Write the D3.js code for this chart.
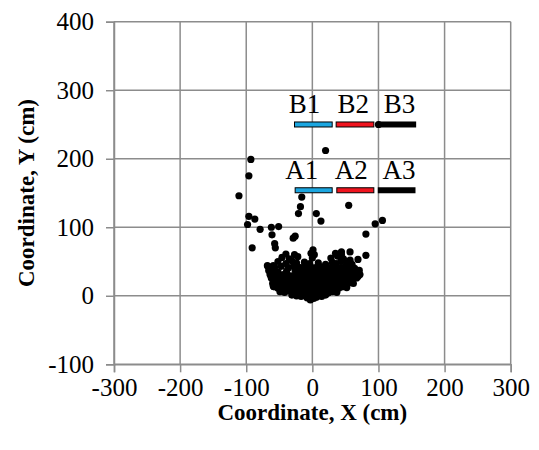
<!DOCTYPE html>
<html>
<head>
<meta charset="utf-8">
<script src="https://cdn.jsdelivr.net/npm/d3@7"></script>
<style>
  body { margin: 0; background: #fff; }
  svg { display: block; }
</style>
</head>
<body>
<div id="chart"></div>
<script>
// ---------Data----------

// scatter points [x, y] in cm
const outliers = [
  [20, 212], [-93, 199], [-96, 175], [-111, 146], [-16, 144], [-18, 130], [-21, 120],
  [6, 120], [13, 109], [55, 132], [-96, 116], [-87, 112], [-98, 104], [-79, 97],
  [-62, 100], [-51, 101], [-61, 89], [-57, 76], [-91, 70], [-56, 70], [-29, 84],
  [-26, 87], [95, 105], [106, 110], [81, 90], [81, 59], [69, 53], [-2, 62], [1, 67],
  [57, 64], [44, 64], [-59, 44], [-67, 43], [-59, 14], [-62, 27], [69, 28], [54, 19],
  [-64, 40], [100, 250]
];
const cluster = [
  [-8, -3], [-3, -6], [2, -4], [6, -2],
  [-31, 1], [-24, 0], [-17, -1], [-11, 1], [-5, 0], [1, 1], [8, 0], [14, -1], [20, 1],
  [-49, 6], [-42, 5], [-36, 7], [-29, 5], [-22, 6], [-15, 7], [-9, 5], [-2, 6], [4, 7],
  [11, 5], [17, 6], [24, 4], [30, 6], [37, 5],
  [-58, 13], [-52, 11], [-45, 12], [-38, 11], [-31, 13], [-25, 12], [-18, 11], [-12, 13],
  [-6, 12], [0, 11], [7, 13], [13, 12], [20, 11], [26, 13], [33, 12], [40, 11], [46, 13], [52, 12],
  [-60, 18], [-54, 19], [-47, 17], [-40, 18], [-34, 19], [-27, 17], [-20, 18], [-14, 19],
  [-8, 17], [-1, 18], [5, 19], [12, 17], [18, 18], [25, 19], [31, 17], [38, 18], [44, 19],
  [50, 17], [56, 19], [62, 18],
  [-62, 26], [-55, 24], [-49, 23], [-42, 25], [-36, 24], [-29, 23], [-23, 25], [-16, 24],
  [-10, 23], [-3, 25], [3, 24], [10, 23], [16, 25], [23, 24], [29, 23], [35, 25], [42, 24],
  [48, 23], [55, 25], [61, 24], [67, 26],
  [-64, 31], [-57, 30], [-50, 29], [-44, 31], [-37, 30], [-31, 29], [-24, 31], [-18, 30],
  [-11, 29], [-5, 31], [2, 30], [8, 29], [15, 31], [21, 30], [28, 29], [34, 31], [40, 30],
  [47, 29], [53, 31], [60, 30], [66, 29], [72, 31],
  [-66, 37], [-59, 36], [-52, 35], [-39, 36], [-26, 37], [-19, 36],
  [-13, 35], [-6, 37], [0, 36], [7, 35], [13, 37], [20, 36], [26, 35], [33, 37], [39, 36],
  [46, 35], [52, 37], [59, 36], [65, 35], [71, 37],
  [-68, 44], [-57, 42], [-47, 43], [-36, 41], [-28, 44], [-21, 42],
  [-15, 41], [-8, 43], [-2, 42], [5, 41], [11, 43], [18, 42], [24, 41], [31, 43], [37, 42],
  [44, 41], [50, 43], [57, 42], [64, 40],
  [-52, 50], [-40, 47], [-31, 51], [-24, 48], [-12, 49], [-4, 47],
  [9, 48], [20, 46], [30, 49], [36, 47], [43, 50], [52, 48], [60, 46],
  [-46, 56], [-35, 54], [-22, 57], [0, 55], [28, 55], [38, 58], [47, 54], [57, 52],
  [-40, 61], [-27, 60], [3, 60], [35, 62], [44, 60]
];

// marker segments
const segNames = ["A1", "A2", "A3", "B1", "B2", "B3"];
const segStart = [-26, 37, 99, -27, 36, 99];
const segEnd = [30, 93, 156, 30, 93, 157];
const segLevel = [154, 154, 154, 250, 250, 250];
const segLabelX = [-16, 59, 131, -12, 62, 132];

// ticks
const xTicks = [-300, -200, -100, 0, 100, 200, 300];
const yTicks = [-100, 0, 100, 200, 300, 400];

// ---------Chart----------

const width = 539;
const height = 450;
const plot = { left: 114, right: 510.7, top: 21.7, bottom: 364.3 };
const gridColor = "#8c8c8c";
const serif = "'Liberation Serif', 'Times New Roman', serif";
const segColor = ["#1ba6e0", "#f0141e", "#000000"];

const svg = d3.select("#chart")
  .append("svg")
  .attr("width", width)
  .attr("height", height);

const x = d3.scaleLinear().domain([-300, 300]).range([plot.left, plot.right]);
const y = d3.scaleLinear().domain([-100, 400]).range([plot.bottom, plot.top]);

// gridlines
svg.append("g")
  .selectAll("line")
  .data(xTicks)
  .enter()
  .append("line")
  .attr("x1", d => x(d))
  .attr("x2", d => x(d))
  .attr("y1", plot.top)
  .attr("y2", plot.bottom)
  .attr("stroke", gridColor)
  .attr("stroke-width", 1.5);

svg.append("g")
  .selectAll("line")
  .data(yTicks)
  .enter()
  .append("line")
  .attr("x1", plot.left)
  .attr("x2", plot.right)
  .attr("y1", d => y(d))
  .attr("y2", d => y(d))
  .attr("stroke", gridColor)
  .attr("stroke-width", 1.5);

// axes (plain hyphen for negatives)
const xAxis = svg.append("g")
  .attr("transform", `translate(0, ${plot.bottom})`)
  .call(d3.axisBottom(x).tickValues(xTicks).tickSize(8).tickPadding(6).tickFormat(d => String(d)));

const yAxis = svg.append("g")
  .attr("transform", `translate(${plot.left}, 0)`)
  .call(d3.axisLeft(y).tickValues(yTicks).tickSize(8).tickPadding(12).tickFormat(d => String(d)));

[xAxis, yAxis].forEach(g => {
  g.select(".domain").attr("stroke", gridColor).attr("stroke-width", 1.5);
  g.selectAll(".tick line").attr("stroke", gridColor).attr("stroke-width", 1.5);
  g.selectAll("text")
    .attr("fill", "#000")
    .style("font-family", serif)
    .style("font-size", "25px");
});

// points
svg.append("g")
  .selectAll("circle")
  .data(outliers.concat(cluster))
  .enter()
  .append("circle")
  .attr("cx", d => x(d[0]))
  .attr("cy", d => y(d[1]))
  .attr("r", 3.6)
  .attr("fill", "#000");

// segments
const segs = svg.append("g");
segNames.forEach((name, i) => {
  const c = segColor[i % 3];
  const isBlack = i % 3 === 2;
  segs.append("rect")
    .attr("x", x(segStart[i]))
    .attr("y", y(segLevel[i]) - (isBlack ? 3 : 2.5))
    .attr("width", x(segEnd[i]) - x(segStart[i]))
    .attr("height", isBlack ? 6 : 5)
    .attr("fill", c)
    .attr("stroke", "#000")
    .attr("stroke-width", isBlack ? 0 : 1);

  segs.append("text")
    .attr("x", x(segLabelX[i]))
    .attr("y", y(segLevel[i]) - 11)
    .attr("text-anchor", "middle")
    .style("font-family", serif)
    .style("font-size", "27px")
    .text(name);
});

// axis titles
svg.append("text")
  .attr("x", (plot.left + plot.right) / 2)
  .attr("y", 420)
  .attr("text-anchor", "middle")
  .style("font-family", serif)
  .style("font-weight", "bold")
  .style("font-size", "23px")
  .text("Coordinate, X (cm)");

svg.append("text")
  .attr("transform", `translate(34, ${(plot.top + plot.bottom) / 2}) rotate(-90)`)
  .attr("text-anchor", "middle")
  .style("font-family", serif)
  .style("font-weight", "bold")
  .style("font-size", "23px")
  .text("Coordinate, Y (cm)");
</script>
</body>
</html>
